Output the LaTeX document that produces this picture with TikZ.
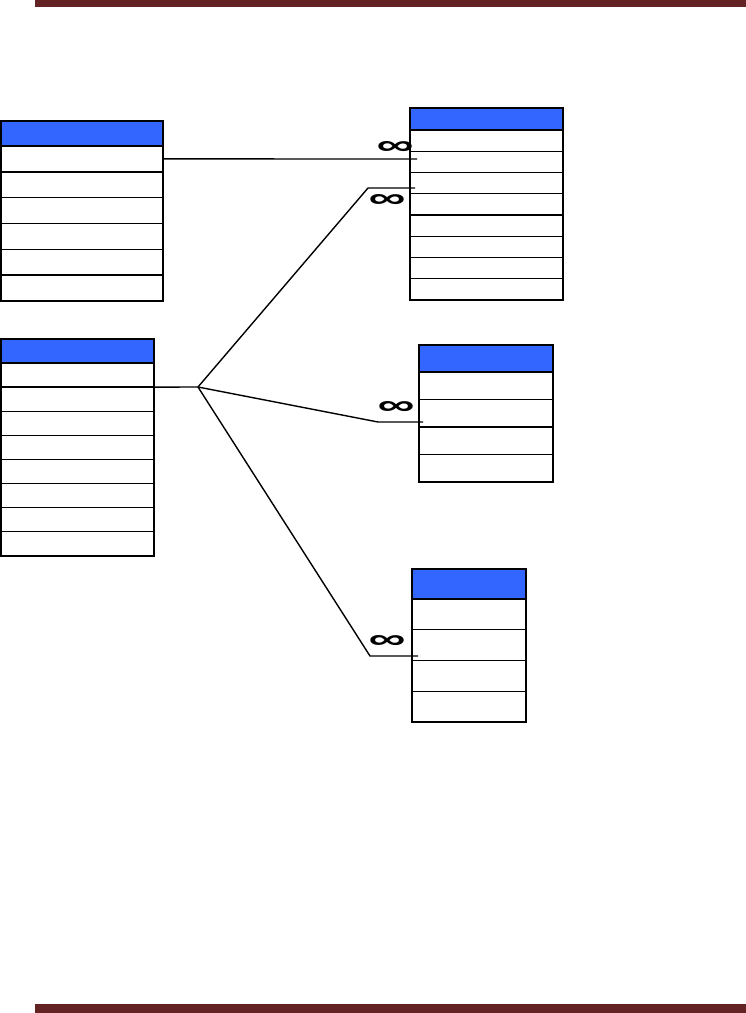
\documentclass[tikz,border=0pt]{standalone}
\usepackage{fontspec}
\usetikzlibrary{positioning, calc}
\newfontfamily\inffont{Liberation Sans}
\definecolor{tabblue}{RGB}{51, 102, 255}
\definecolor{barred}{RGB}{99, 34, 36}
\newcommand{\many}{\resizebox{37pt}{13pt}{\inffont\bfseries ∞}}

\begin{document}
\begin{tikzpicture}[
    x=1pt, y=-1pt,
    tabhead/.style={rectangle, draw, line width=1.6pt, fill=tabblue, inner sep=0pt, outer sep=0pt, anchor=north west},
    tabrow/.style={rectangle, draw, line width=1.4pt, fill=white, inner sep=0pt, outer sep=0pt, anchor=north west},
    link/.style={line width=1.4pt},
    inf/.style={inner sep=0pt}
]
\useasboundingbox (0,0) rectangle (746,1013);

% === Bandas ===
\fill[barred] (35,0) rectangle (746,7);
\fill[barred] (35,1004) rectangle (746,1013);

% === Tabla A (arriba izquierda) ===
\node[tabhead, minimum width=162, minimum height=25] (a-h) at (1,121) {};
\foreach \i in {1,...,6}
    \node[tabrow, minimum width=162, minimum height=25.8] (a-\i) at (1,{146+(\i-1)*25.8}) {};

% === Tabla B (arriba derecha) ===
\node[tabhead, minimum width=153, minimum height=22] (b-h) at (410,108) {};
\foreach \i in {1,...,8}
    \node[tabrow, minimum width=153, minimum height=21.25] (b-\i) at (410,{130+(\i-1)*21.25}) {};

% === Tabla C (centro izquierda) ===
\node[tabhead, minimum width=153, minimum height=24] (c-h) at (1,339) {};
\foreach \i in {1,...,8}
    \node[tabrow, minimum width=153, minimum height=24.1] (c-\i) at (1,{363+(\i-1)*24.1}) {};

% === Tabla D (centro derecha) ===
\node[tabhead, minimum width=134, minimum height=27] (d-h) at (419,345) {};
\foreach \i in {1,...,4}
    \node[tabrow, minimum width=134, minimum height=27.5] (d-\i) at (419,{372+(\i-1)*27.5}) {};

% === Tabla E (abajo derecha) ===
\node[tabhead, minimum width=114, minimum height=30] (e-h) at (412,569) {};
\foreach \i in {1,...,4}
    \node[tabrow, minimum width=114, minimum height=30.75] (e-\i) at (412,{599+(\i-1)*30.75}) {};

% === Relaciones ===
\coordinate (ab) at (417,159);
\coordinate (fork) at (198,387);
\coordinate (cb) at (415,188);
\coordinate (cd) at (423,422);
\coordinate (ce) at (418,656);

\draw[link] (a-1.east) -- (ab);
\draw[link] (c-1.south east) -- (fork);
\draw[link] (fork) -- (368,188) -- (cb);
\draw[link] (fork) -- (378,422) -- (cd);
\draw[link] (fork) -- (370,656) -- (ce);

% Cardinalidad
\node[inf] (i1) at (395,148) {\many};
\node[inf] (i2) at (387,201) {\many};
\node[inf] (i3) at (396,408) {\many};
\node[inf] (i4) at (387,642) {\many};

\end{tikzpicture}
\end{document}
